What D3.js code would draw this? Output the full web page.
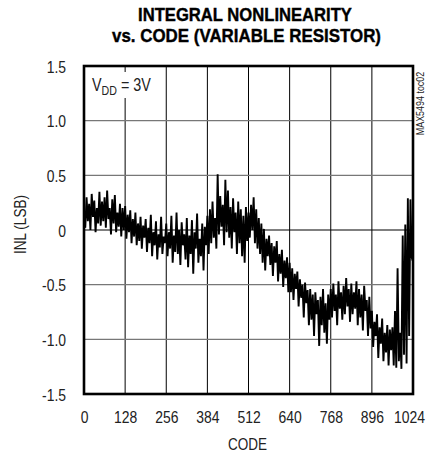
<!DOCTYPE html>
<html>
<head>
<meta charset="utf-8">
<script src="https://cdn.jsdelivr.net/npm/d3@7"></script>
<style>
  html, body { margin: 0; padding: 0; background: #fff; }
  svg { display: block; }
  text { font-family: 'Liberation Sans Narrow', 'Arial Narrow', 'Liberation Sans', sans-serif; fill: #222; }
</style>
</head>
<body>
<script>
// ---- data ----
const titleLines = ["INTEGRAL NONLINEARITY", "vs. CODE (VARIABLE RESISTOR)"];
const xTicks = [0, 128, 256, 384, 512, 640, 768, 896, 1024];
const yTicks = [1.5, 1.0, 0.5, 0, -0.5, -1.0, -1.5];
const yTickLabels = ["1.5", "1.0", "0.5", "0", "-0.5", "-1.0", "-1.5"];
const xLabel = "CODE";
const yLabel = "INL (LSB)";
const codeStep = 4;
// INL (LSB), one value every 4 codes (0..1020), then code 1023
const inl = [
  0.18, 0.02, 0.30, 0.08, 0.24, 0.00, 0.33, 0.12, 0.27, -0.02, 0.20, 0.06, 0.35, 0.04, 0.26, 0.08,
  0.30, 0.02, 0.36, 0.10, 0.20, -0.04, 0.28, 0.06, 0.32, -0.02, 0.16, 0.03, 0.24, -0.06, 0.20, 0.00,
  0.22, -0.08, 0.14, -0.02, 0.18, -0.12, 0.10, -0.06, 0.16, -0.14, 0.06, -0.10, 0.12, -0.17, 0.04, -0.07,
  0.10, -0.20, 0.02, -0.12, 0.14, -0.24, -0.02, -0.14, 0.08, -0.27, -0.04, -0.16, 0.12, -0.22, -0.06, -0.12,
  0.06, -0.24, -0.02, -0.17, 0.13, -0.30, -0.05, -0.20, 0.16, -0.22, 0.00, -0.32, 0.07, -0.14, -0.04, -0.27,
  0.11, -0.34, -0.05, -0.22, 0.09, -0.40, -0.02, -0.17, 0.15, -0.30, -0.08, -0.24, 0.06, -0.37, 0.03, -0.14,
  0.13, -0.22, 0.19, -0.12, 0.26, -0.07, 0.11, -0.17, 0.51, -0.04, 0.31, 0.03, 0.23, -0.14, 0.46, -0.02,
  0.36, -0.07, 0.21, -0.17, 0.29, -0.02, 0.16, -0.22, 0.26, -0.12, 0.19, -0.24, 0.13, -0.30, 0.21, -0.10,
  0.16, -0.07, 0.23, 0.00, 0.30, -0.12, 0.19, -0.17, 0.11, -0.22, 0.06, -0.30, 0.01, -0.37, -0.08, -0.24,
  -0.05, -0.32, -0.12, -0.42, -0.15, -0.30, -0.10, -0.47, -0.22, -0.40, -0.18, -0.52, -0.28, -0.44, -0.25, -0.57,
  -0.30, -0.57, -0.35, -0.64, -0.40, -0.54, -0.38, -0.70, -0.45, -0.62, -0.50, -0.80, -0.48, -0.67, -0.55, -0.87,
  -0.54, -0.82, -0.59, -0.97, -0.57, -0.77, -0.64, -1.06, -0.61, -0.87, -0.54, -0.94, -0.67, -1.04, -0.59, -0.82,
  -0.54, -0.80, -0.49, -0.74, -0.59, -0.87, -0.47, -0.72, -0.57, -0.82, -0.51, -0.77, -0.44, -0.70, -0.54, -0.84,
  -0.49, -0.77, -0.57, -0.72, -0.47, -0.87, -0.54, -0.80, -0.59, -0.92, -0.51, -0.74, -0.64, -0.97, -0.61, -0.90,
  -0.74, -1.07, -0.84, -0.97, -0.77, -1.17, -0.89, -1.04, -0.81, -1.20, -0.94, -1.12, -0.87, -1.24, -0.91, -1.10,
  -0.89, -1.24, -0.74, -1.26, -0.35, -1.20, -0.94, -1.27, -0.05, -1.14, 0.05, -1.22, 0.29, -0.97, 0.28, -0.25,
  -0.28
];
const codes = inl.map((v, i) => Math.min(i * codeStep, 1023));
const condition = { main: "V", sub: "DD", rest: " = 3V" };
const figId = "MAX5494 toc02";

// ---- layout ----
const W = 427, H = 457;
const L = 84, R = 413, T = 66, B = 394;
const NARROW = 0.82;

const svg = d3.select("body").append("svg").attr("width", W).attr("height", H);

const x = d3.scaleLinear().domain([0, 1024]).range([L, R]);
const y = d3.scaleLinear().domain([-1.5, 1.5]).range([B, T]);

function narrowText(sel, str, tx, ty, size, anchor, rot, sx) {
  return sel.append("text").text(str)
    .attr("transform", `translate(${tx},${ty})` + (rot ? ` rotate(${rot})` : "") + ` scale(${sx || NARROW},1)`)
    .attr("text-anchor", anchor || "middle")
    .attr("font-size", size);
}

// title (bold, condensed to the reference widths)
const tw = [214, 269], tcx = [245, 246.5], tby = [20.5, 41.5];
titleLines.forEach((t, i) => {
  const el = svg.append("text").text(t)
    .attr("text-anchor", "middle")
    .attr("font-weight", "bold")
    .attr("font-size", 18.5)
    .style("fill", "#000")
    .style("stroke", "#000").style("stroke-width", 0.4);
  const nat = el.node().getComputedTextLength() || tw[i];
  el.attr("transform", `translate(${tcx[i]},${tby[i]}) scale(${tw[i] / nat},1)`);
});

// grid
const grid = svg.append("g");
grid.selectAll("line.v").data(xTicks.slice(1, -1)).join("line")
  .attr("x1", d => x(d)).attr("x2", d => x(d))
  .attr("y1", T).attr("y2", B)
  .attr("stroke", "#000").attr("stroke-width", 1);
grid.selectAll("line.h").data(yTicks.slice(1, -1)).join("line")
  .attr("x1", L).attr("x2", R)
  .attr("y1", d => y(d)).attr("y2", d => y(d))
  .attr("stroke", d => d === 0 ? "#000" : "#777").attr("stroke-width", 1.2);

// data line
const line = d3.line().x((d, i) => x(codes[i])).y(d => y(d));
svg.append("path").datum(inl)
  .attr("d", line)
  .attr("fill", "none")
  .attr("stroke", "#000")
  .attr("stroke-width", 1.9)
  .attr("stroke-linejoin", "miter");

// condition label with white background
const cg = svg.append("g");
cg.append("rect").attr("x", 89).attr("y", 72).attr("width", 64).attr("height", 26).attr("fill", "#fff");
const ct = narrowText(cg, "", 92, 91, 17.5, "start");
ct.append("tspan").text(condition.main);
ct.append("tspan").text(condition.sub).attr("font-size", 13).attr("dy", 3.5);
ct.append("tspan").text(condition.rest).attr("dy", -3.5);

// frame
svg.append("rect").attr("x", L).attr("y", T).attr("width", R - L).attr("height", B - T)
  .attr("fill", "none").attr("stroke", "#000").attr("stroke-width", 2.6);

// axes (labels only)
const xAxis = d3.axisBottom(x).tickValues(xTicks).tickSize(0).tickPadding(0).tickFormat(d3.format("d"));
const gx = svg.append("g").attr("transform", `translate(0,${B})`).call(xAxis);
gx.select(".domain").remove();
gx.selectAll("text").attr("font-size", 17).attr("dy", null).attr("y", 29)
  .attr("x", d => d === 1024 ? -4 / NARROW : 0)
  .attr("transform", `scale(${NARROW},1)`)
  .attr("font-family", null).style("fill", "#222");

const yAxis = d3.axisLeft(y).tickValues(yTicks).tickSize(0).tickPadding(0)
  .tickFormat((d, i) => yTickLabels[i]);
const gy = svg.append("g").attr("transform", `translate(${L},0)`).call(yAxis);
gy.select(".domain").remove();
gy.selectAll("text").attr("font-size", 17).attr("x", -18 / NARROW).attr("dy", "0.36em")
  .attr("transform", `scale(${NARROW},1)`)
  .attr("font-family", null).style("fill", "#222");

// axis titles
narrowText(svg, xLabel, 247.5, 450, 16.5, "middle");
narrowText(svg, yLabel, 26, 224.5, 16.5, "middle", -90);

// figure id
narrowText(svg, figId, 424, 103.5, 10.5, "middle", -90, 0.85);
</script>
</body>
</html>
